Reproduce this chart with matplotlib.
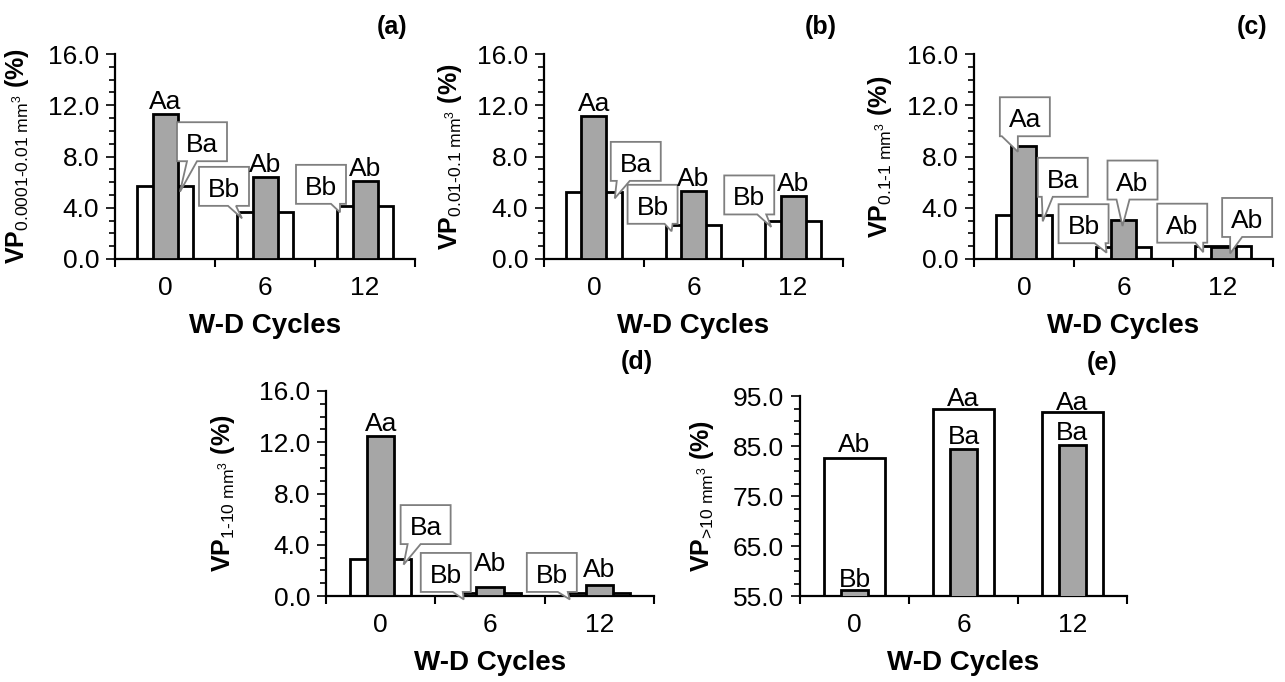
# Pore volume fractions (VP) by pore-size class across wetting-drying cycles.
# Five panels: wide white bars behind narrow grey bars, letters marking significance.

import matplotlib
matplotlib.use('Agg')
import numpy as np
import matplotlib.pyplot as plt
import matplotlib.transforms as mtransforms
from matplotlib.patches import Polygon
from matplotlib.ticker import FixedLocator, FormatStrFormatter

plt.rcParams['font.family'] = ['Liberation Sans', 'DejaVu Sans']
plt.rcParams['mathtext.fontset'] = 'custom'
plt.rcParams['mathtext.rm'] = 'Liberation Sans'
plt.rcParams['mathtext.bf'] = 'Liberation Sans:bold'
plt.rcParams['mathtext.it'] = 'Liberation Sans:italic'

######
# DATA
######
cycles = ['0', '6', '12']

# (a) 0.0001-0.01 mm3
white_a = [5.72, 3.64, 4.11]
grey_a = [11.29, 6.40, 6.11]
white_lab_a = ['Ba', 'Bb', 'Bb']
grey_lab_a = ['Aa', 'Ab', 'Ab']

# (b) 0.01-0.1 mm3
white_b = [5.20, 2.63, 2.97]
grey_b = [11.19, 5.28, 4.89]
white_lab_b = ['Ba', 'Bb', 'Bb']
grey_lab_b = ['Aa', 'Ab', 'Ab']

# (c) 0.1-1 mm3
white_c = [3.41, 0.96, 1.00]
grey_c = [8.84, 3.04, 0.90]
white_lab_c = ['Ba', 'Bb', 'Ab']
grey_lab_c = ['Aa', 'Ab', 'Ab']

# (d) 1-10 mm3
white_d = [2.92, 0.20, 0.20]
grey_d = [12.46, 0.70, 0.89]
white_lab_d = ['Ba', 'Bb', 'Bb']
grey_lab_d = ['Aa', 'Ab', 'Ab']

# (e) >10 mm3
white_e = [82.7, 92.5, 91.8]
grey_e = [56.3, 84.4, 85.3]
white_lab_e = ['Ab', 'Aa', 'Aa']
grey_lab_e = ['Bb', 'Ba', 'Ba']

GREY = '#a6a6a6'
W_PX, H_PX = 1285, 682
FS_TICK = 19
FS_NOTE = 19

fig = plt.figure(figsize=(W_PX / 100, H_PX / 100), dpi=100)


def add_axes_px(left, right, top, bottom):
    # axes rectangle given in pixel positions of the 1285x682 canvas
    return fig.add_axes([left / W_PX, 1 - bottom / H_PX,
                         (right - left) / W_PX, (bottom - top) / H_PX])


def callout(ax, x, y, text, cx, cy, b0, b1, w=50, h=39, depth=6):
    # speech-bubble label; geometry in pixels relative to the tip
    trans = (mtransforms.Affine2D().translate(0, -depth).scale(fig.dpi / 100.0)
             + mtransforms.ScaledTranslation(x, y, ax.transData))
    l, r = cx - w / 2, cx + w / 2
    bt, tp = cy - h / 2, cy + h / 2
    verts = [(l, bt), (cx + b0, bt), (0, 0), (cx + b1, bt),
             (r, bt), (r, tp), (l, tp)]
    ax.add_patch(Polygon(verts, closed=True, transform=trans,
                         facecolor='white', edgecolor='#7f7f7f',
                         linewidth=1.3, zorder=6, clip_on=False))
    ax.text(cx, cy - 1, text, transform=trans, ha='center',
            va='center_baseline', fontsize=FS_NOTE, zorder=7)


def draw_panel(ax, white, grey, yticks, yminor, ylabel, letter,
               letter_xy, ylabel_x, xlabel_y):
    x = list(range(len(cycles)))
    ax.bar(x, white, width=0.56, color='white', edgecolor='black',
           linewidth=2.0, zorder=2)
    ax.bar(x, grey, width=0.25, color=GREY, edgecolor='black',
           linewidth=2.0, zorder=3)

    ax.set_xlim(-0.5, 2.5)
    ax.set_ylim(yticks[0], yticks[-1])
    ax.set_xticks([-0.5, 0.5, 1.5, 2.5])
    ax.set_xticklabels([])
    ax.set_xticks(x, minor=True)
    ax.set_xticklabels(cycles, minor=True)
    ax.tick_params(axis='x', which='major', direction='out', length=6,
                   width=1.5)
    ax.tick_params(axis='x', which='minor', length=0, pad=12,
                   labelsize=FS_TICK)

    ax.yaxis.set_major_locator(FixedLocator(yticks))
    ax.yaxis.set_minor_locator(FixedLocator(yminor))
    ax.yaxis.set_major_formatter(FormatStrFormatter('%.1f'))
    ax.tick_params(axis='y', which='major', direction='out', length=6.5,
                   width=1.2, pad=5, labelsize=FS_TICK)
    ax.tick_params(axis='y', which='minor', direction='out', length=4.5,
                   width=1.2)

    for side in ['top', 'right']:
        ax.spines[side].set_visible(False)
    for side in ['left', 'bottom']:
        ax.spines[side].set_linewidth(1.6)

    ax.set_xlabel('W-D Cycles', fontsize=20, fontweight='bold')
    ax.xaxis.set_label_coords(0.5, xlabel_y)
    ax.set_ylabel(ylabel, fontsize=18, fontweight='bold')
    ax.yaxis.set_label_coords(ylabel_x, 0.5)

    ax.text(letter_xy[0], letter_xy[1], letter, transform=ax.transAxes,
            ha='right', va='center', fontsize=18, fontweight='bold')


def plain_labels(ax, values, labels, gaps):
    for i, (v, lab) in enumerate(zip(values, labels)):
        ax.annotate(lab, (i, v), xytext=(0, gaps[i]),
                    textcoords='offset points', ha='center', va='bottom',
                    fontsize=FS_NOTE, zorder=7)


ticks16 = np.arange(0, 16.1, 4)
minor16 = np.arange(0, 16.1, 1)
ticks95 = np.arange(55, 95.1, 10)
minor95 = np.arange(55, 95.1, 2.5)

########
# PANELS
########
ax_a = add_axes_px(115, 415, 54, 259)
draw_panel(ax_a, white_a, grey_a, ticks16, minor16,
           r'$\mathbf{VP}_{\mathrm{0.0001\text{-}0.01\ mm^3}}$ (%)',
           '(a)', (0.975, 1.13), -0.28, -0.265)
plain_labels(ax_a, grey_a, grey_lab_a, [0, 0, 0])
callout(ax_a, 0 + 0.15, white_a[0], white_lab_a[0], 22, 50, -15, -5)
callout(ax_a, 1 - 0.23, white_a[1], white_lab_a[1], -18, 32, 4, 12)
callout(ax_a, 2 - 0.25, white_a[2], white_lab_a[2], -19, 28, 10, 19)

ax_b = add_axes_px(544, 843, 54, 259)
draw_panel(ax_b, white_b, grey_b, ticks16, minor16,
           r'$\mathbf{VP}_{\mathrm{0.01\text{-}0.1\ mm^3}}$ (%)',
           '(b)', (0.98, 1.13), -0.268, -0.265)
plain_labels(ax_b, grey_b, grey_lab_b, [0, 0, 0])
callout(ax_b, 0 + 0.21, white_b[0], white_lab_b[0], 21, 37, -19, -6)
callout(ax_b, 1 - 0.22, white_b[1], white_lab_b[1], -19, 27, 12, 20)
callout(ax_b, 2 - 0.22, white_b[2], white_lab_b[2], -22, 32, 8, 17)

ax_c = add_axes_px(974, 1273, 54, 259)
draw_panel(ax_c, white_c, grey_c, ticks16, minor16,
           r'$\mathbf{VP}_{\mathrm{0.1\text{-}1\ mm^3}}$ (%)',
           '(c)', (0.98, 1.13), -0.268, -0.265)
callout(ax_c, 0 - 0.06, grey_c[0], grey_lab_c[0], 7, 35, -23, -7)
callout(ax_c, 0 + 0.19, white_c[0], white_lab_c[0], 20, 44, -21, -10)
callout(ax_c, 1 - 0.17, white_c[1], white_lab_c[1], -23, 29, 11, 22)
callout(ax_c, 1 - 0.01, grey_c[1], grey_lab_c[1], 10, 46, -16, -3)
callout(ax_c, 2 - 0.20, white_c[2], white_lab_c[2], -21, 29, 13, 21)
callout(ax_c, 2 + 0.07, grey_c[2], grey_lab_c[2], 17, 36, -17, -5)

ax_d = add_axes_px(326, 654, 391, 596)
draw_panel(ax_d, white_d, grey_d, ticks16, minor16,
           r'$\mathbf{VP}_{\mathrm{1\text{-}10\ mm^3}}$ (%)',
           '(d)', (0.997, 1.14), -0.271, -0.265)
plain_labels(ax_d, grey_d, grey_lab_d, [0, 8, 2])
callout(ax_d, 0 + 0.21, white_d[0], white_lab_d[0], 22, 40, -18, -5)
callout(ax_d, 1 - 0.24, white_d[1], white_lab_d[1], -18, 27, 7, 17)
callout(ax_d, 2 - 0.27, white_d[2], white_lab_d[2], -18, 27, 6, 16)

ax_e = add_axes_px(800, 1127, 396, 596)
draw_panel(ax_e, white_e, grey_e, ticks95, minor95,
           r'$\mathbf{VP}_{\mathrm{\text{>10}\ mm^3}}$ (%)',
           '(e)', (0.97, 1.165), -0.257, -0.27)
plain_labels(ax_e, white_e, white_lab_e, [0, -2, -2])
plain_labels(ax_e, grey_e, grey_lab_e, [-2, 0, 0])

fig.savefig('out.png', dpi=100)
